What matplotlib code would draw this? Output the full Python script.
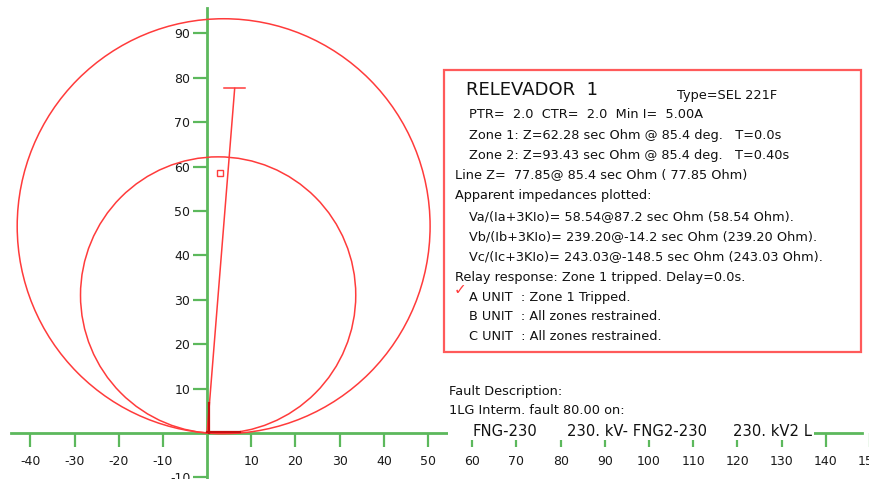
import numpy as np
import matplotlib
matplotlib.use('Agg')
import matplotlib.pyplot as plt
from matplotlib.patches import Circle, Rectangle

plt.rcParams['font.family'] = ['DejaVu Sans']
plt.rcParams['axes.unicode_minus'] = False

# relay 1 settings, secondary ohms / degrees
relay_name = 'RELEVADOR  1'
relay_type = 'SEL 221F'
ptr, ctr, min_i = 2.0, 2.0, 5.00
zone_names = ['Zone 1', 'Zone 2']
zone_reach = [62.28, 93.43]
zone_angle = [85.4, 85.4]
zone_time = ['0.0s', '0.40s']
line_z = 77.85
line_angle = 85.4

# apparent impedances seen by each unit
app_names = ['Va/(Ia+3KIo)', 'Vb/(Ib+3KIo)', 'Vc/(Ic+3KIo)']
app_z = [58.54, 239.20, 243.03]
app_angle = [87.2, -14.2, -148.5]
unit_names = ['A UNIT', 'B UNIT', 'C UNIT']
unit_status = ['Zone 1 Tripped.', 'All zones restrained.', 'All zones restrained.']

# faulted line description
fault_parts = ['FNG-230', '230. kV- FNG2-230', '230. kV2 L']

# short traces drawn at the origin
trace_r = [0, 7.5]
trace_x = [0, 6.7]

xticks = [-40, -30, -20, -10, 10, 20, 30, 40, 50, 60, 70, 80, 90, 100,
          110, 120, 130, 140, 150]
yticks = [-10, 10, 20, 30, 40, 50, 60, 70, 80, 90]

W, H = 870, 479
green = '#5cb85c'
red = '#ff3b3b'


def fx(px):
    return px / W


def fy(py):
    return 1 - py / H


fig = plt.figure(figsize=(W / 100, H / 100), dpi=100)
ax = fig.add_axes([0, 0, 1, 1])
ax.set_xlim(-46.86, 148.2)
ax.set_ylim(-10.36, 97.5)

for s in ['top', 'right']:
    ax.spines[s].set_visible(False)
for s in ['left', 'bottom']:
    ax.spines[s].set_position(('data', 0))
    ax.spines[s].set_color(green)
    ax.spines[s].set_linewidth(2)
ax.spines['bottom'].set_bounds(-44.4, 148.2)
ax.spines['left'].set_bounds(-10.36, 95.7)

ax.set_xticks(xticks)
ax.set_yticks(yticks)
ax.tick_params(direction='out', length=10, width=1.6, color=green,
               labelsize=9, labelcolor='#1a1a1a')
ax.tick_params(axis='x', pad=6)
ax.tick_params(axis='y', pad=2)

# mho circles: diameter from origin to the zone reach
for z, a in zip(zone_reach, zone_angle):
    cx = z / 2 * np.cos(np.radians(a))
    cy = z / 2 * np.sin(np.radians(a))
    ax.add_patch(Circle((cx, cy), z / 2, fill=False, ec=red, lw=1.1, zorder=3))

# line impedance with end bar
lx = line_z * np.cos(np.radians(line_angle))
ly = line_z * np.sin(np.radians(line_angle))
ax.plot([0, lx], [0, ly], color=red, lw=1.1, zorder=3)
ax.plot([lx - 2.4, lx + 2.4], [ly, ly], color=red, lw=1.1, zorder=3)

# apparent impedances (only phase A falls in view)
ar = [z * np.cos(np.radians(a)) for z, a in zip(app_z, app_angle)]
ai = [z * np.sin(np.radians(a)) for z, a in zip(app_z, app_angle)]
ax.plot(ar, ai, 's', ms=4, mfc='none', mec=red, mew=1.0, zorder=3)

ax.plot([trace_r[0], trace_r[1]], [0.3, 0.3], color='#c81010', lw=1.6, zorder=3)
ax.plot([0.4, 0.4], [trace_x[0], trace_x[1]], color='#c81010', lw=1.6, zorder=3)

# settings box
ax.add_patch(Rectangle((fx(444), fy(352)), (861 - 444) / W, (352 - 70) / H,
                       transform=fig.transFigure, fc='white', ec='#ff5a5a',
                       lw=1.6, clip_on=False, zorder=4))

tk = dict(va='center', fontsize=9.3, color='#111', zorder=5)
fig.text(fx(466), fy(90), relay_name, va='center', fontsize=13, color='#111', zorder=5)
fig.text(fx(677), fy(95), 'Type=' + relay_type, **tk)
fig.text(fx(469), fy(115), f'PTR=  {ptr:.1f}  CTR=  {ctr:.1f}  Min I=  {min_i:.2f}A', **tk)
for i, (n, z, a, t) in enumerate(zip(zone_names, zone_reach, zone_angle, zone_time)):
    fig.text(fx(469), fy(135 + 20 * i),
             f'{n}: Z={z:.2f} sec Ohm @ {a:.1f} deg.   T={t}', **tk)
fig.text(fx(455), fy(175),
         f'Line Z=  {line_z:.2f}@ {line_angle:.1f} sec Ohm ( {line_z:.2f} Ohm)', **tk)
fig.text(fx(455), fy(195), 'Apparent impedances plotted:', **tk)
for i, (n, z, a) in enumerate(zip(app_names, app_z, app_angle)):
    fig.text(fx(469), fy(217 + 20 * i),
             f'{n}= {z:.2f}@{a:.1f} sec Ohm ({z:.2f} Ohm).', **tk)
fig.text(fx(455), fy(277), 'Relay response: Zone 1 tripped. Delay=0.0s.', **tk)
fig.text(fx(454), fy(290), '\u2713', va='center', fontsize=11, color=red,
         fontweight='bold', zorder=5)
for i, (n, s) in enumerate(zip(unit_names, unit_status)):
    fig.text(fx(469), fy(297 + 20 * i), f'{n}  : {s}', **tk)

# fault description under the box
fig.text(fx(449), fy(391), 'Fault Description:', **tk)
fig.text(fx(449), fy(411), '1LG Interm. fault 80.00 on:', **tk)
ax.add_patch(Rectangle((fx(448), fy(440)), (814 - 448) / W, 19 / H,
                       transform=fig.transFigure, fc='white', ec='none',
                       clip_on=False, zorder=4))
for x0, part in zip([473, 567, 733], fault_parts):
    fig.text(fx(x0), fy(431), part, va='center', fontsize=10.6, color='#111',
             zorder=5)

fig.savefig('out.png', dpi=100)
